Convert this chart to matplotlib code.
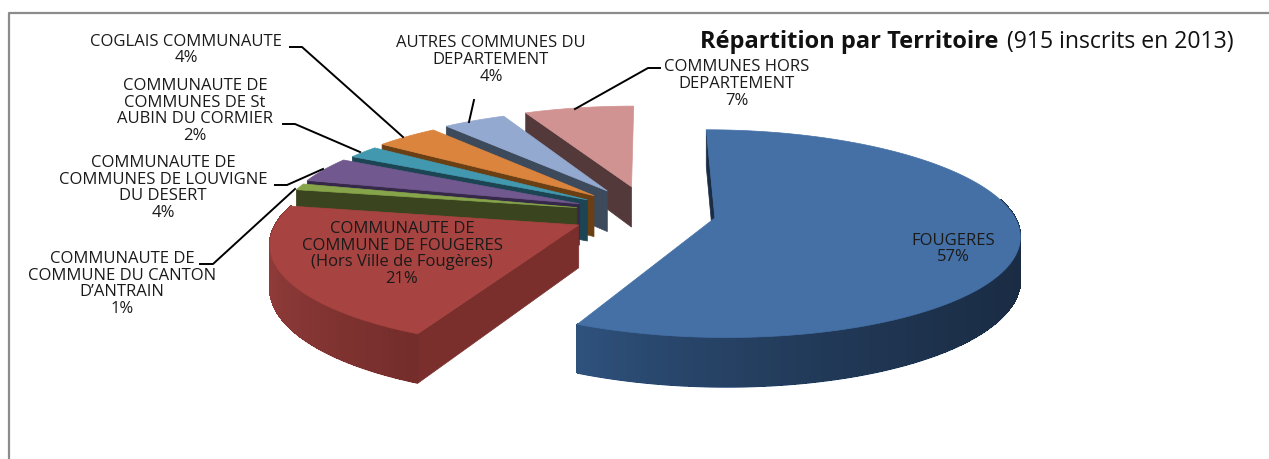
#!/usr/bin/env python3

import numpy as np
import matplotlib
matplotlib.use('Agg')
import matplotlib.pyplot as plt
from matplotlib.colors import to_rgb

labels = ['FOUGERES',
          'COMMUNAUTE DE\nCOMMUNE DE FOUGERES\n(Hors Ville de Fougères)',
          'COMMUNAUTE DE\nCOMMUNE DU CANTON\nD\u2019ANTRAIN',
          'COMMUNAUTE DE\nCOMMUNES DE LOUVIGNE\nDU DESERT',
          'COMMUNAUTE DE\nCOMMUNES DE St\nAUBIN DU CORMIER',
          'COGLAIS COMMUNAUTE',
          'AUTRES COMMUNES DU\nDEPARTEMENT',
          'COMMUNES HORS\nDEPARTEMENT']
shares = [57, 21, 1, 4, 2, 4, 4, 7]

top_colors = ['#4470A6', '#A74340', '#86A44A', '#71588F', '#4198AF', '#DB843D', '#93A9CF', '#D19392']
cut_colors = ['#1B2D45', '#7A2F2D', '#3A441F', '#352848', '#1C4452', '#6A3F14', '#3C4A5C', '#53393A']
rim_left = ['#305480', '#8F3B39', '#3A441F', '#352848', '#1C4452', '#6A3F14', '#3C4A5C', '#53393A']
rim_right = ['#1A2C44', '#742D2B', '#3A441F', '#352848', '#1C4452', '#6A3F14', '#3C4A5C', '#53393A']
explode = [0.225, 0.26, 0.25, 0.255, 0.25, 0.26, 0.27, 0.28]

label_pos = [(953, 249), (402, 254), (122, 284), (163, 188), (195, 111), (186, 50), (491, 60), (737, 84)]
leaders = [None, None,
           [(200, 264), (213, 264), (295, 189)],
           [(275, 185), (287, 185), (323, 169)],
           [(283, 124), (295, 124), (360, 152)],
           [(290, 47), (302, 47), (403, 137)],
           [(474, 100), (469, 122)],
           [(660, 68), (648, 68), (575, 109)]]

# projection of the pie plane to pixels
CX, CY = 649, 213
A, B, K = 298, 100, 0.15
DEPTH = 42


def project(X, Y):
    s = 1 / (1 - K * Y)
    return CX + A * X * s, CY + B * Y * s, DEPTH * s


fig = plt.figure(figsize=(12.69, 4.59), dpi=100)
ax = fig.add_axes([0, 0, 1, 1])
ax.set_xlim(0, 1269)
ax.set_ylim(459, 0)
ax.axis('off')

ax.plot([9, 9, 1269], [459, 13, 13], color='#8C8C8C', lw=1.6)

edges = np.cumsum([0] + shares) / sum(shares) * 2 * np.pi

# back slices first, front ones over them
for i in [7, 6, 5, 4, 3, 2, 1, 0]:
    z = 10 + (7 - i) * 3
    mid = (edges[i] + edges[i + 1]) / 2
    ox, oy = explode[i] * np.sin(mid), -explode[i] * np.cos(mid)
    t = np.linspace(edges[i], edges[i + 1], max(4, int(shares[i] * 3)))
    rx, ry, rd = project(ox + np.sin(t), oy - np.cos(t))
    ax0, ay0, ad0 = project(ox, oy)

    # cut face on the starting edge
    ax.fill([ax0, rx[0], rx[0], ax0], [ay0, ry[0], ry[0] + rd[0], ay0 + ad0],
            color=cut_colors[i], lw=0.5, zorder=z)

    # outer wall, only the part turned to the viewer
    front = np.cos(t) < 0.2
    if front.sum() > 1:
        wx, wy, wd = rx[front], ry[front], rd[front]
        ax.fill(np.r_[wx, wx[::-1]], np.r_[wy, (wy + wd)[::-1]], color=rim_left[i], lw=0.5, zorder=z)
        c0, c1 = np.array(to_rgb(rim_left[i])), np.array(to_rgb(rim_right[i]))
        for j in range(len(wx) - 1):
            f = np.clip((wx[j] - wx.min()) / max(wx.max() - wx.min(), 1), 0, 1) ** 0.7
            ax.fill([wx[j], wx[j + 1], wx[j + 1], wx[j]],
                    [wy[j], wy[j + 1], wy[j + 1] + wd[j + 1] - 1, wy[j] + wd[j] - 1],
                    color=c0 + (c1 - c0) * f, lw=0.8, antialiased=False, zorder=z + 1)

    ax.fill(np.r_[ax0, rx], np.r_[ay0, ry], color=top_colors[i], lw=0.5, zorder=z + 2)

# labels
for i in range(len(labels)):
    ax.text(label_pos[i][0], label_pos[i][1], labels[i] + '\n%d%%' % shares[i],
            ha='center', va='center', fontsize=12, family='Open Sans', color='#1A1A1A',
            linespacing=1.05, zorder=60)
    if leaders[i]:
        xs, ys = zip(*leaders[i])
        ax.plot(xs, ys, color='black', lw=1.4, zorder=50)

ax.text(700, 42, 'Répartition par Territoire', ha='left', va='center', fontsize=17,
        family='Open Sans', weight='bold', color='#111111', zorder=60)
ax.text(1007, 42, '(915 inscrits en 2013)', ha='left', va='center', fontsize=16.6,
        family='Open Sans', color='#111111', zorder=60)

fig.savefig('out.png', dpi=100)
